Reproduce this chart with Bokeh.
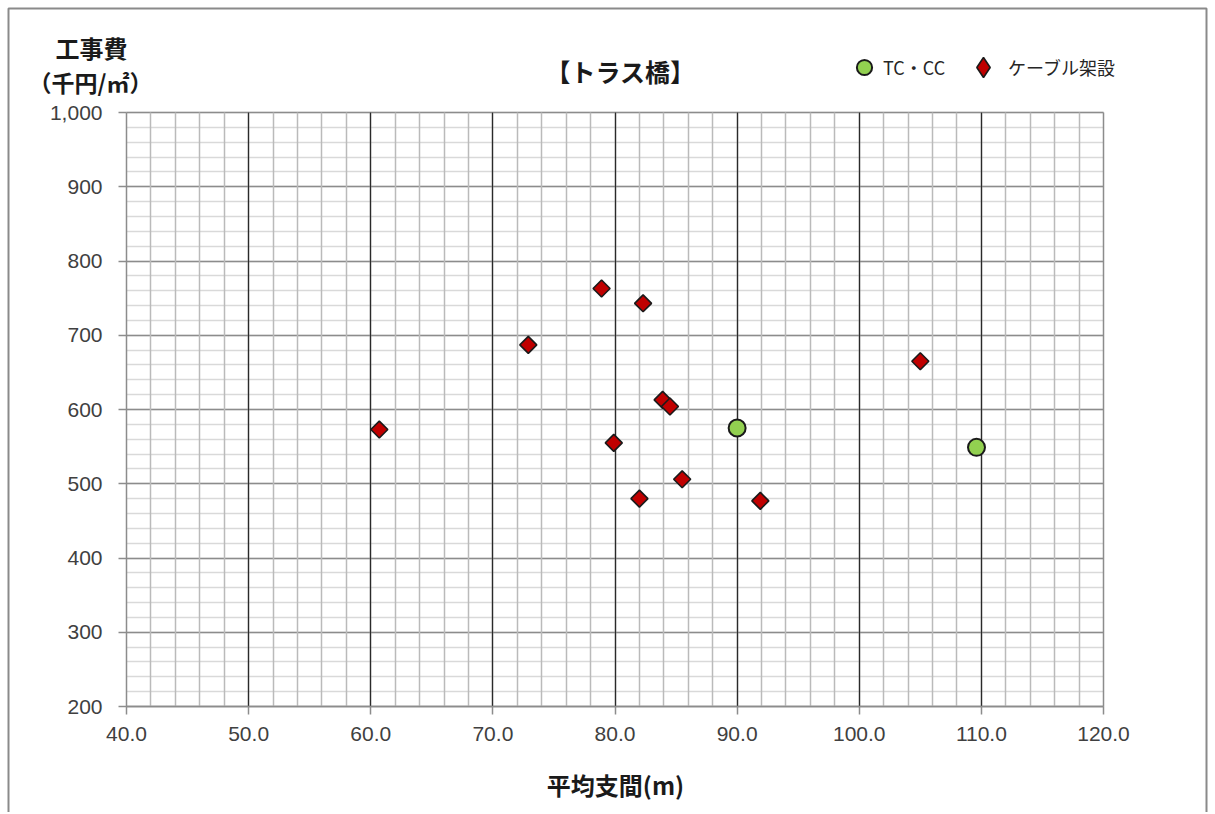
from bokeh.plotting import figure
from bokeh.models import (SingleIntervalTicker, NumeralTickFormatter, Label,
                          Legend, LegendItem, Range1d, LinearAxis, FixedTicker,
                          Grid, BoxAnnotation)
from bokeh.embed import file_html
from bokeh.resources import INLINE
import math

# ---- data ----
tc_x = [90.0, 109.6]
tc_y = [575, 549]
cable_x = [60.7, 72.9, 78.9, 82.3, 83.9, 84.5, 79.9, 82.0, 85.5, 91.9, 105.0]
cable_y = [573, 687, 763, 743, 613, 604, 555, 480, 506, 477, 665]

series_names = ["TC・CC", "ケーブル架設"]
title_text = "【トラス橋】"
y_label_lines = ["工事費", "（千円/㎡）"]
x_label_text = "平均支間(m)"

X_MIN, X_MAX = 40, 120
Y_MIN, Y_MAX = 200, 1000

JP = "Noto Sans CJK JP"
NUM = "Liberation Sans"

W, H = 1214, 812
# plot-area placement on the canvas (pixels)
FL, FR, FT, FB = 126, 1103, 112, 706
xs = (FR - FL) / (X_MAX - X_MIN)
ys = (FB - FT) / (Y_MAX - Y_MIN)
x_range = Range1d(X_MIN - FL / xs, X_MAX + (W - FR) / xs)
y_range = Range1d(Y_MIN - (H - FB) / ys, Y_MAX + FT / ys)

p = figure(width=W, height=H, x_range=x_range, y_range=y_range,
           output_backend="svg", toolbar_location=None,
           min_border=0, x_axis_type=None, y_axis_type=None)
p.background_fill_color = "white"
p.border_fill_color = "white"
p.outline_line_color = None

# grids limited to the plot area
xgrid = Grid(dimension=0,
             ticker=SingleIntervalTicker(interval=10, num_minor_ticks=5),
             bounds=(X_MIN + 1, X_MAX - 1), cross_bounds=(Y_MIN, Y_MAX),
             grid_line_color="#2a2a2a", grid_line_width=1.3,
             minor_grid_line_color="#bababa", minor_grid_line_width=1.5)
ygrid = Grid(dimension=1,
             ticker=SingleIntervalTicker(interval=100, num_minor_ticks=5),
             bounds=(Y_MIN, Y_MAX), cross_bounds=(X_MIN, X_MAX),
             grid_line_color="#8c8c8c", grid_line_width=1.5,
             minor_grid_line_color="#d9d9d9", minor_grid_line_width=1.5)
p.add_layout(ygrid)
p.add_layout(xgrid)

# axes fixed at the plot-area edges
xaxis = LinearAxis(fixed_location=Y_MIN, bounds=(X_MIN, X_MAX),
                   ticker=SingleIntervalTicker(interval=10, num_minor_ticks=5),
                   formatter=NumeralTickFormatter(format="0.0"))
yaxis = LinearAxis(fixed_location=X_MIN, bounds=(Y_MIN, Y_MAX),
                   ticker=SingleIntervalTicker(interval=100, num_minor_ticks=5),
                   formatter=NumeralTickFormatter(format="0,0"))
raxis = LinearAxis(fixed_location=X_MAX, bounds=(Y_MIN, Y_MAX),
                   ticker=FixedTicker(ticks=[]), major_label_text_font_size="0px")
for ax in (xaxis, yaxis, raxis):
    ax.axis_line_color = "#8c8c8c"
    ax.axis_line_width = 1.5
    ax.major_tick_line_color = "#8c8c8c"
    ax.major_tick_line_width = 1.5
    ax.major_tick_out = 8
    ax.major_tick_in = 0
    ax.minor_tick_line_color = None
    ax.major_label_text_font = NUM
    ax.major_label_text_color = "#404040"
xaxis.major_label_text_font_size = "21px"
yaxis.major_label_text_font_size = "21px"
xaxis.major_label_standoff = 12
yaxis.major_label_standoff = 16
p.add_layout(xaxis, "below")
p.add_layout(yaxis, "left")
p.add_layout(raxis, "right")

# data
r_tc = p.scatter(tc_x, tc_y, marker="circle", size=17,
                 fill_color="#92d050", line_color="#1a1a1a", line_width=2)
r_cable = p.scatter(cable_x, cable_y, marker="square", size=12,
                    angle=math.pi / 4,
                    fill_color="#c00000", line_color="#1a1a1a", line_width=1.6)
# legend swatch for the diamonds (no data drawn)
r_cable_key = p.scatter([float("nan")], [float("nan")], marker="diamond",
                        size=12, fill_color="#c00000", line_color="#1a1a1a",
                        line_width=1.6)

common = dict(orientation="horizontal", padding=0, margin=0,
              label_text_font=JP, label_text_font_size="18px",
              label_text_color="#262626",
              background_fill_alpha=0, border_line_color=None)
leg1 = Legend(items=[LegendItem(label=series_names[0], renderers=[r_tc])],
              location=(845, H - 86), glyph_width=38, glyph_height=38,
              label_standoff=-9, **common)
leg2 = Legend(items=[LegendItem(label=series_names[1], renderers=[r_cable_key])],
              location=(958, H - 92), glyph_width=50, glyph_height=50,
              label_standoff=-7, **common)
p.add_layout(leg1, "center")
p.add_layout(leg2, "center")

# outer chart border
p.add_layout(BoxAnnotation(left=8, right=W - 8, top=H - 8, bottom=-20,
                           left_units="screen", right_units="screen",
                           top_units="screen", bottom_units="screen",
                           fill_alpha=0, line_color="#8a8a8a", line_alpha=1.0,
                           line_width=2))

# texts (screen units, measured from the canvas bottom-left)
def add_text(txt, cx, cy, size):
    p.add_layout(Label(x=cx, y=H - cy, x_units="screen", y_units="screen",
                       text=txt, text_font=JP, text_font_size=size,
                       text_font_style="bold", text_align="center",
                       text_baseline="middle", text_color="#1a1a1a"))

add_text(title_text, 620, 70, "25px")
add_text(y_label_lines[0], 91, 47, "24px")
add_text(y_label_lines[1], 90, 81, "23px")
add_text(x_label_text, 615, 784, "24px")

open("out.html", "w").write(file_html(p, INLINE))
